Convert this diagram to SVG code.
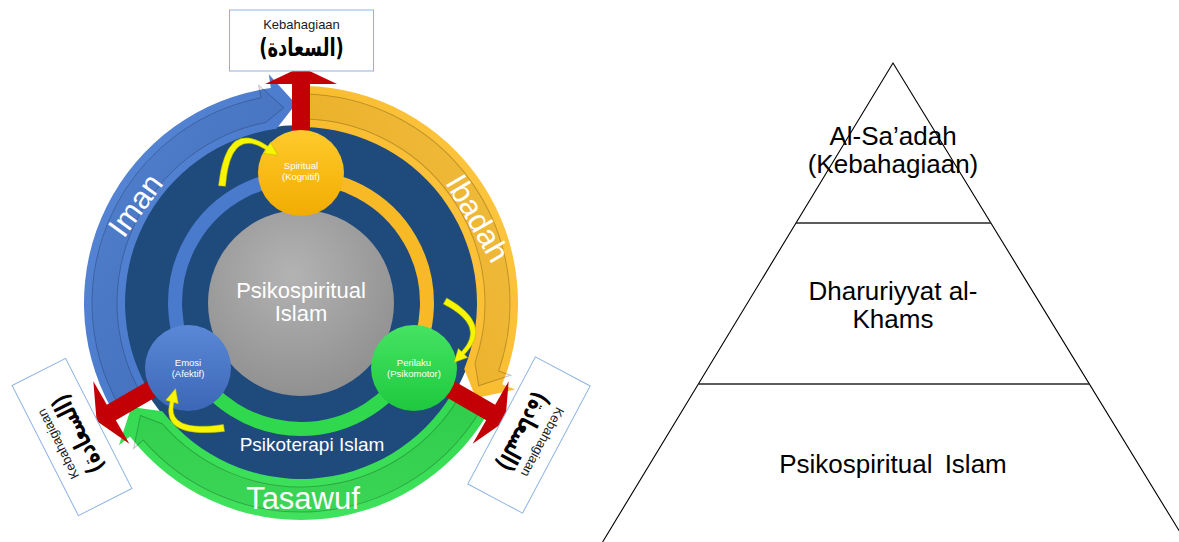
<svg xmlns="http://www.w3.org/2000/svg" xmlns:xlink="http://www.w3.org/1999/xlink" width="1179" height="542" viewBox="0 0 1179 542">
  <style>
    .sans { font-family: "Liberation Sans", Arial, sans-serif; }
    .arabic { font-family: "DejaVu Sans", sans-serif; font-weight: bold; }
    .white { fill: #ffffff; }
    .small { font-size: 9.5px; fill: #ffffff; text-anchor: middle; }
    .band-label { font-size: 31px; fill: #ffffff; text-anchor: middle; }
    .box { fill: #ffffff; stroke: #8db3e2; stroke-width: 1; }
    .box-title { font-size: 13px; fill: #1a1a1a; text-anchor: middle; }
    .box-arabic { font-size: 22px; fill: #000000; text-anchor: middle; }
    .bevel { fill: rgba(0,0,0,0.05); stroke: rgba(0,0,0,0.22); stroke-width: 1; }
    .inner-ring { fill: none; stroke-width: 14; }
    .yellow { fill: #f7f500; stroke: #b5b300; stroke-width: 0.5; }
    .pyr { fill: none; stroke: #000000; stroke-width: 1.1; }
    .pyr-line { stroke: #262626; stroke-width: 1.6; }
    .pyr-text { font-size: 26px; fill: #000000; text-anchor: middle; }
  </style>
  <defs>
    <!-- circular band arrow (drawn for the Iman position, rotated for the others) -->
    <path id="ring-arrow" d="M111.2,408.2 A217,217 0 0 1 270.8,88.1 L268.8,74.2 L295.8,104.1 L276.5,128.7 A176,176 0 0 0 147.1,388.3 Z"/>
    <path id="ring-bevel" d="M118.2,404.3 A209,209 0 0 1 261.1,97.8 L258.6,85.1 L283.9,107.7 L265.9,122.4 A184,184 0 0 0 140.1,392.2 Z"/>
    <!-- outward red arrow, pointing along +x from the hub -->
    <path id="red-arrow" d="M0,-9 L219,-9 L219,-36 L236,0 L219,36 L219,9 L0,9 Z"/>
    <linearGradient id="gBlue" x1="0" y1="0" x2="1" y2="1">
      <stop offset="0" stop-color="#5b8ad8"/>
      <stop offset="1" stop-color="#3f6fc4"/>
    </linearGradient>
    <linearGradient id="gOrange" x1="0" y1="0" x2="1" y2="1">
      <stop offset="0" stop-color="#ffc947"/>
      <stop offset="1" stop-color="#f3b21c"/>
    </linearGradient>
    <linearGradient id="gGreen" x1="0" y1="0" x2="1" y2="1">
      <stop offset="0" stop-color="#4be866"/>
      <stop offset="1" stop-color="#22cf41"/>
    </linearGradient>
    <radialGradient id="gGray" cx="0.45" cy="0.35" r="0.7">
      <stop offset="0" stop-color="#b3b3b3"/>
      <stop offset="1" stop-color="#8e8e8e"/>
    </radialGradient>
    <linearGradient id="cGold" x1="0" y1="0" x2="0" y2="1">
      <stop offset="0" stop-color="#ffca2c"/>
      <stop offset="1" stop-color="#f2ac00"/>
    </linearGradient>
    <linearGradient id="cBlue" x1="0" y1="0" x2="0" y2="1">
      <stop offset="0" stop-color="#5a88d6"/>
      <stop offset="1" stop-color="#3c67b7"/>
    </linearGradient>
    <linearGradient id="cGreen" x1="0" y1="0" x2="0" y2="1">
      <stop offset="0" stop-color="#45e362"/>
      <stop offset="1" stop-color="#1ec93e"/>
    </linearGradient>
  </defs>

  <rect x="0" y="0" width="1179" height="542" fill="#ffffff"/>

  <!-- navy base disk -->
  <g id="base-disk">
    <circle cx="301" cy="303" r="178" fill="#1f4a7c"/>
  </g>

  <!-- outer ring of circular arrows -->
  <g id="iman-arrow">
    <use xlink:href="#ring-arrow" fill="url(#gBlue)"/>
    <use xlink:href="#ring-bevel" class="bevel"/>
  </g>
  <g id="ibadah-arrow" transform="rotate(120 301 303)">
    <use xlink:href="#ring-arrow" fill="url(#gOrange)"/>
    <use xlink:href="#ring-bevel" class="bevel"/>
  </g>
  <g id="tasawuf-arrow" transform="rotate(240 301 303)">
    <use xlink:href="#ring-arrow" fill="url(#gGreen)"/>
    <use xlink:href="#ring-bevel" class="bevel"/>
  </g>

  <!-- connectors: red outward arrows -->
  <g id="connectors">
    <use xlink:href="#red-arrow" fill="#c30006" transform="translate(301 303) rotate(-90)"/>
    <use xlink:href="#red-arrow" fill="#c30006" transform="translate(301 303) rotate(30)"/>
    <use xlink:href="#red-arrow" fill="#c30006" transform="translate(301 303) rotate(150)"/>
  </g>

  <!-- inner ring linking the three aspects -->
  <g id="inner-ring">
    <path class="inner-ring" stroke="#4a7acb" d="M191.9,366 A126,126 0 0 1 301,177"/>
    <path class="inner-ring" stroke="#f8b927" d="M301,177 A126,126 0 0 1 410.1,366"/>
    <path class="inner-ring" stroke="#2fd84c" d="M410.1,366 A126,126 0 0 1 191.9,366"/>
  </g>

  <g id="psikospiritual">
    <circle cx="301" cy="303" r="93" fill="url(#gGray)"/>
    <text class="sans white" font-size="22" text-anchor="middle" x="301" y="298">Psikospiritual</text>
    <text class="sans white" font-size="22" text-anchor="middle" x="301" y="321">Islam</text>
  </g>

  <g id="spiritual">
    <circle cx="301" cy="173" r="43" fill="url(#cGold)"/>
    <text class="sans small" x="301" y="169">Spiritual</text>
    <text class="sans small" x="301" y="180">(Kognitif)</text>
  </g>
  <g id="emosi">
    <circle cx="188" cy="368" r="43" fill="url(#cBlue)"/>
    <text class="sans small" x="188" y="366">Emosi</text>
    <text class="sans small" x="188" y="377">(Afektif)</text>
  </g>
  <g id="perilaku">
    <circle cx="414" cy="368" r="43" fill="url(#cGreen)"/>
    <text class="sans small" x="414" y="366">Perilaku</text>
    <text class="sans small" x="414" y="377">(Psikomotor)</text>
  </g>

  <!-- yellow cycle arrows between the aspects -->
  <g id="cycle-arrows">
    <path class="yellow" d="M218.5,185.7 Q225.9,117.6 268.1,146.3 L270.6,142.6 L277.8,155.2 L263.4,153.4 L265.9,149.7 Q230.1,126.4 225.5,186.3 Z"/>
    <path class="yellow" d="M446.65,297.9 Q494.05,324.36 464.44,354.39 L467.7,357.5 L454,362.4 L458.3,348.5 L461.56,351.61 Q485.95,325.64 443.35,304.1 Z"/>
    <path class="yellow" d="M224.5,431.5 Q159.6,439 170.1,401.5 L165.7,400.3 L175.6,388.5 L178.3,403.7 L173.9,402.5 Q166.4,433 223.5,424.5 Z"/>
  </g>

  <!-- band labels -->
  <g id="labels">
    <text class="sans band-label" transform="translate(135 205) rotate(-54)" y="11">Iman</text>
    <text class="sans band-label" transform="translate(478 218) rotate(60)" y="11">Ibadah</text>
    <text class="sans band-label" x="303" y="509">Tasawuf</text>
    <text class="sans white" font-size="19" text-anchor="middle" x="312" y="451">Psikoterapi Islam</text>
  </g>

  <!-- outcome boxes -->
  <g id="box-top" transform="translate(301.5 40.5)">
    <rect class="box" x="-72" y="-30.5" width="144" height="61"/>
    <text class="sans box-title" x="0" y="-11.5">Kebahagiaan</text>
    <text class="arabic box-arabic" transform="translate(0 15) scale(0.82 1.15)">(السعادة)</text>
  </g>
  <g id="box-left" transform="translate(72 437) rotate(-117)">
    <rect class="box" x="-73" y="-30" width="146" height="60"/>
    <text class="sans box-title" x="0" y="-11">Kebahagiaan</text>
    <text class="arabic box-arabic" transform="translate(0 15) scale(0.82 1.15)">(السعادة)</text>
  </g>
  <g id="box-right" transform="translate(529 435) rotate(118)">
    <rect class="box" x="-72" y="-31" width="144" height="62"/>
    <text class="sans box-title" x="0" y="-11">Kebahagiaan</text>
    <text class="arabic box-arabic" transform="translate(0 15) scale(0.82 1.15)">(السعادة)</text>
  </g>

  <!-- pyramid -->
  <g id="pyramid">
    <path class="pyr" d="M602.6,542 L893,63 L1186,542"/>
    <line class="pyr-line" x1="796" y1="223" x2="991" y2="223"/>
    <line class="pyr-line" x1="698.5" y1="384" x2="1089.6" y2="384"/>
  </g>
  <g id="tier-top">
    <text class="sans pyr-text" x="893" y="145">Al-Sa’adah</text>
    <text class="sans pyr-text" x="893" y="173">(Kebahagiaan)</text>
  </g>
  <g id="tier-middle">
    <text class="sans pyr-text" x="893" y="300">Dharuriyyat al-</text>
    <text class="sans pyr-text" x="893" y="328">Khams</text>
  </g>
  <g id="tier-base">
    <text class="sans pyr-text" x="893" y="473" word-spacing="5">Psikospiritual Islam</text>
  </g>
</svg>
